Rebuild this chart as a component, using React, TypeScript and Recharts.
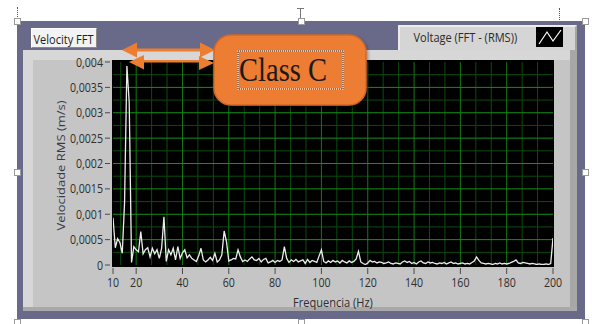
import React from 'react';
import { LineChart, Line, XAxis, YAxis, ReferenceLine, Label } from 'recharts';

const frequencyHz = [
  10, 11, 12, 13, 14, 15, 16, 17, 18, 19, 20, 21, 22, 23, 24, 25, 26, 27, 28, 29,
  30, 31, 32, 33, 34, 35, 36, 37, 38, 39, 40, 41, 42, 43, 44, 45, 46, 47, 48, 49,
  50, 51, 52, 53, 54, 55, 56, 57, 58, 59, 60, 61, 62, 63, 64, 65, 66, 67, 68, 69,
  70, 71, 72, 73, 74, 75, 76, 77, 78, 79, 80, 81, 82, 83, 84, 85, 86, 87, 88, 89,
  90, 91, 92, 93, 94, 95, 96, 97, 98, 99, 100, 101, 102, 103, 104, 105, 106, 107, 108, 109,
  110, 111, 112, 113, 114, 115, 116, 117, 118, 119, 120, 121, 122, 123, 124, 125, 126, 127, 128, 129,
  130, 131, 132, 133, 134, 135, 136, 137, 138, 139, 140, 141, 142, 143, 144, 145, 146, 147, 148, 149,
  150, 151, 152, 153, 154, 155, 156, 157, 158, 159, 160, 161, 162, 163, 164, 165, 166, 167, 168, 169,
  170, 171, 172, 173, 174, 175, 176, 177, 178, 179, 180, 181, 182, 183, 184, 185, 186, 187, 188, 189,
  190, 191, 192, 193, 194, 195, 196, 197, 198, 199, 200,
];

const velocityRms = [
  9.3e-4, 3.4e-4, 5.2e-4, 4.4e-4, 2.3e-4, 12.4e-4, 39.2e-4, 32.0e-4, 0.5e-4, 3.6e-4,
  3.0e-4, 2.6e-4, 6.6e-4, 2.2e-4, 3.0e-4, 3.4e-4, 1.6e-4, 3.3e-4, 2.2e-4, 3.0e-4,
  1.3e-4, 3.3e-4, 9.5e-4, 0.7e-4, 3.0e-4, 2.0e-4, 3.3e-4, 1.0e-4, 3.6e-4, 1.3e-4,
  2.4e-4, 3.0e-4, 1.4e-4, 2.0e-4, 1.3e-4, 1.0e-4, 0.7e-4, 1.8e-4, 3.3e-4, 1.0e-4,
  0.6e-4, 1.0e-4, 1.5e-4, 0.9e-4, 2.3e-4, 0.6e-4, 1.0e-4, 2.0e-4, 6.7e-4, 4.6e-4,
  0.8e-4, 1.0e-4, 1.3e-4, 1.2e-4, 3.0e-4, 1.6e-4, 0.7e-4, 1.0e-4, 0.7e-4, 1.2e-4,
  1.6e-4, 1.0e-4, 0.9e-4, 1.3e-4, 0.6e-4, 1.1e-4, 1.3e-4, 0.4e-4, 0.6e-4, 0.9e-4,
  0.5e-4, 0.9e-4, 0.7e-4, 1.0e-4, 3.6e-4, 1.3e-4, 0.5e-4, 1.0e-4, 0.7e-4, 1.1e-4,
  0.6e-4, 0.8e-4, 1.0e-4, 0.3e-4, 1.1e-4, 0.5e-4, 0.9e-4, 0.7e-4, 0.5e-4, 1.8e-4,
  3.0e-4, 0.7e-4, 0.4e-4, 0.8e-4, 0.5e-4, 0.9e-4, 0.6e-4, 0.8e-4, 0.4e-4, 0.9e-4,
  0.6e-4, 0.4e-4, 0.8e-4, 0.5e-4, 0.7e-4, 1.2e-4, 2.7e-4, 0.6e-4, 0.3e-4, 0.1e-4,
  0.4e-4, 0.9e-4, 0.6e-4, 0.7e-4, 0.4e-4, 0.6e-4, 0.5e-4, 0.3e-4, 0.4e-4, 0.6e-4,
  0.3e-4, 0.2e-4, 0.4e-4, 0.3e-4, 0.2e-4, 0.6e-4, 0.8e-4, 0.5e-4, 0.7e-4, 0.3e-4,
  0.5e-4, 0.2e-4, 0.6e-4, 0.8e-4, 0.4e-4, 0.3e-4, 0.6e-4, 0.4e-4, 0.5e-4, 0.3e-4,
  0.2e-4, 0.4e-4, 0.3e-4, 0.5e-4, 0.2e-4, 0.4e-4, 0.6e-4, 0.3e-4, 0.4e-4, 0.2e-4,
  0.3e-4, 0.4e-4, 0.2e-4, 0.3e-4, 0.2e-4, 0.5e-4, 0.8e-4, 1.6e-4, 0.9e-4, 0.4e-4,
  0.3e-4, 0.2e-4, 0.3e-4, 0.2e-4, 0.1e-4, 0.3e-4, 0.2e-4, 0.4e-4, 0.2e-4, 0.3e-4,
  0.2e-4, 0.3e-4, 0.5e-4, 0.7e-4, 1.0e-4, 0.4e-4, 0.3e-4, 0.5e-4, 0.4e-4, 0.3e-4,
  0.2e-4, 0.3e-4, 0.2e-4, 0.1e-4, 0.2e-4, 0.1e-4, 0.1e-4, 0.2e-4, 0.1e-4, 0.3e-4,
  5.3e-4,
];

const xTicks = [10, 20, 40, 60, 80, 100, 120, 140, 160, 180, 200];
const yTicks = [0, 0.0005, 0.001, 0.0015, 0.002, 0.0025, 0.003, 0.0035, 0.004];
const majorGridHz = [20, 40, 60, 80, 100, 120, 140, 160, 180];
const minorGridHz = [
  13.33, 26.67, 33.33, 46.67, 53.33, 66.67, 73.33, 86.67, 93.33, 106.67, 113.33,
  126.67, 133.33, 146.67, 153.33, 166.67, 173.33, 186.67, 193.33,
];
const majorGridVel = [0.0005, 0.001, 0.0015, 0.002, 0.0025, 0.003, 0.0035];
const minorGridVel = [0.00025, 0.00075, 0.00125, 0.00175, 0.00225, 0.00275, 0.00325, 0.00375];

const chartTitle = 'Velocity FFT';
const legendLabel = 'Voltage (FFT - (RMS))';
const xTitle = 'Frequencia (Hz)';
const yTitle = 'Velocidade RMS (m/s)';
const calloutText = 'Class C';

const spectrum = frequencyHz.map((f, i) => ({ f, v: velocityRms[i] }));

const FONT = '"Open Sans", "DejaVu Sans", sans-serif';
const TEXT = '#2e2e2e';

const XTick = (props: any) => {
  const { x, y, payload } = props;
  return (
    <g>
      <line x1={x} x2={x} y1={y} y2={y + 6} stroke="#4a4a4a" strokeWidth={1} />
      <text
        transform={`translate(${x},${y + 19}) scale(0.85,1)`}
        textAnchor="middle"
        fontSize={12.5}
        fill={TEXT}
        fontFamily={FONT}
      >
        {payload.value}
      </text>
    </g>
  );
};

const YTick = (props: any) => {
  const { x, y, payload } = props;
  const label = String(payload.value).replace('.', ',');
  return (
    <g>
      <line x1={x - 5} x2={x} y1={y} y2={y} stroke="#4a4a4a" strokeWidth={1} />
      <text
        transform={`translate(${x - 7},${y + 4.5}) scale(0.85,1)`}
        textAnchor="end"
        fontSize={12.5}
        fill={TEXT}
        fontFamily={FONT}
      >
        {label}
      </text>
    </g>
  );
};

const YTitle = (props: any) => {
  const vb = props.viewBox;
  return (
    <text
      transform={`translate(${vb.x + 11.5},${vb.y + vb.height / 2 + 2}) rotate(-90) scale(1,0.85)`}
      textAnchor="middle"
      fontSize={13}
      fill="#3a3a48"
      fontFamily={FONT}
    >
      {yTitle}
    </text>
  );
};

const XTitle = (props: any) => {
  const vb = props.viewBox;
  return (
    <text
      transform={`translate(${vb.x + vb.width / 2},${vb.y + 42}) scale(0.85,1)`}
      textAnchor="middle"
      fontSize={13}
      fill={TEXT}
      fontFamily={FONT}
    >
      {xTitle}
    </text>
  );
};

const abs = (l: number, t: number, w: number, h: number, extra: React.CSSProperties = {}): React.CSSProperties => ({
  position: 'absolute',
  left: l,
  top: t,
  width: w,
  height: h,
  boxSizing: 'border-box',
  ...extra,
});

const Handle = ({ cx, cy }: { cx: number; cy: number }) => (
  <div style={abs(cx - 3, cy - 3, 7, 7, { background: '#fff', border: '1px solid #9a9a9a' })} />
);

export default function App() {
  return (
    <div style={{ position: 'absolute', left: 0, top: 0, width: 592, height: 324, background: '#fff', overflow: 'hidden' }}>
      {/* Word-style selection markers */}
      <div style={abs(17, 7, 1, 12, { borderLeft: '1px dotted #555' })} />
      <div style={abs(300, 9, 1, 10, { background: '#777' })} />
      <div style={abs(297, 8, 7, 1, { background: '#777' })} />
      <div style={abs(559, 8, 1, 12, { borderLeft: '1px dotted #555' })} />

      {/* outer frame */}
      <div style={abs(17, 21, 568, 298, { background: '#69698a' })} />
      {/* inner panel */}
      <div style={abs(23, 50, 554, 261, { background: '#c5c5c5' })} />
      <div style={abs(23, 50, 554, 10, { background: '#d7d7d7' })} />
      <div style={abs(23, 50, 10, 261, { background: '#d7d7d7' })} />
      <div style={abs(570, 50, 7, 261, { background: '#a7a7a7' })} />
      <div style={abs(23, 307, 554, 4, { background: '#a9a9a9' })} />

      {/* title box */}
      <div
        style={abs(31, 28, 66, 20, {
          background: '#f3f3f3',
          borderTop: '1px solid #ffffff',
          borderLeft: '1px solid #ffffff',
          borderRight: '1px solid #8a8a8a',
          borderBottom: '1px solid #8a8a8a',
        })}
      />
      <svg style={abs(31, 28, 66, 20)} width={66} height={20}>
        <text transform="translate(2.5,15.5) scale(0.85,1)" fontSize={13} fill="#1e1e1e" fontFamily={FONT}>
          {chartTitle}
        </text>
      </svg>

      {/* legend box */}
      <div
        style={abs(398, 25, 179, 25, {
          background: '#d5d5d5',
          borderTop: '2px solid #ececec',
          borderLeft: '2px solid #ececec',
          borderRight: '2px solid #a5a5a5',
        })}
      />
      <svg style={abs(398, 25, 179, 25)} width={179} height={25}>
        <text transform="translate(15.5,16.8) scale(0.85,1)" fontSize={13} fill="#2a2a2a" fontFamily={FONT}>
          {legendLabel}
        </text>
        <rect x={138} y={2} width={27} height={20} fill="#000" />
        <polyline points="141,19 149,7 155,16 163,5" fill="none" stroke="#fff" strokeWidth={1.2} />
      </svg>

      {/* plot background */}
      <div style={abs(112, 60, 442, 207, { background: '#000' })} />

      <div style={{ position: 'absolute', left: 0, top: 0 }}>
        <LineChart
          width={592}
          height={324}
          data={spectrum}
          margin={{ top: 62, right: 39, bottom: 29, left: 53 }}
        >
          <XAxis
            dataKey="f"
            type="number"
            domain={[10, 200]}
            ticks={xTicks}
            allowDataOverflow
            axisLine={false}
            tickLine={false}
            tickSize={0}
            tickMargin={3}
            height={30}
            tick={<XTick />}
            interval={0}
            label={<Label content={<XTitle />} />}
          />
          <YAxis
            type="number"
            domain={[0, 0.004]}
            ticks={yTicks}
            allowDataOverflow
            axisLine={false}
            tickLine={false}
            tickSize={0}
            tickMargin={3}
            width={60}
            tick={<YTick />}
            interval={0}
            label={<Label content={<YTitle />} />}
          />
          {minorGridHz.map((g) => (
            <ReferenceLine key={`mx${g}`} x={g} stroke="#0b4d0b" strokeWidth={1} />
          ))}
          {minorGridVel.map((g) => (
            <ReferenceLine key={`my${g}`} y={g} stroke="#0b4d0b" strokeWidth={1} />
          ))}
          {majorGridHz.map((g) => (
            <ReferenceLine key={`Mx${g}`} x={g} stroke="#137a13" strokeWidth={1} />
          ))}
          {majorGridVel.map((g) => (
            <ReferenceLine key={`My${g}`} y={g} stroke="#169016" strokeWidth={1} />
          ))}
          <Line
            type="linear"
            dataKey="v"
            stroke="#ececec"
            strokeWidth={1.3}
            dot={false}
            isAnimationActive={false}
          />
        </LineChart>
      </div>

      {/* annotation: arrows and callout */}
      <svg style={abs(0, 0, 592, 324, { pointerEvents: 'none' })} width={592} height={324}>
        <defs>
          <filter id="shadow" x="-10%" y="-10%" width="130%" height="140%">
            <feDropShadow dx="1.5" dy="2" stdDeviation="1.5" floodColor="#000" floodOpacity="0.35" />
          </filter>
        </defs>
        <g fill="#ed7d31">
          <rect x={136} y={48.5} width={66} height={3} />
          <polygon points="122,50 137,42.5 137,57.5" />
          <polygon points="215,50 200,42.5 200,57.5" />
          <rect x={142} y={60} width={60} height={2.5} />
          <polygon points="129,62 144,55 144,69.5" />
          <polygon points="214,63 199,56 199,70" />
        </g>
        <rect
          x={214}
          y={35}
          width={152}
          height={70}
          rx={17}
          fill="#ed7d31"
          stroke="#d2682a"
          strokeWidth={1.5}
          filter="url(#shadow)"
        />
        <rect x={238} y={51} width={105} height={38} fill="none" stroke="#fff" strokeWidth={1} />
        <rect x={238} y={51} width={105} height={38} fill="none" stroke="#222" strokeWidth={1} strokeDasharray="1 1" />
        <text
          transform="translate(239,81) scale(0.84,1)"
          fontSize={34}
          fill="#1a1a1a"
          fontFamily='"Liberation Serif", "DejaVu Serif", serif'
        >
          {calloutText}
        </text>
      </svg>

      <Handle cx={17} cy={21} />
      <Handle cx={301} cy={21} />
      <Handle cx={585} cy={21} />
      <Handle cx={17} cy={172} />
      <Handle cx={585} cy={172} />
      <Handle cx={17} cy={322} />
      <Handle cx={301} cy={322} />
      <Handle cx={585} cy={322} />
    </div>
  );
}
